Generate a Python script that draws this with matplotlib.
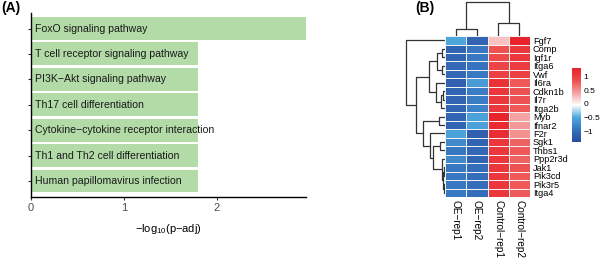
import numpy as np
import matplotlib
matplotlib.use("Agg")
import matplotlib.pyplot as plt
from matplotlib.colors import LinearSegmentedColormap

plt.rcParams['font.family'] = ['Liberation Sans', 'DejaVu Sans']
plt.rcParams['mathtext.default'] = 'regular'

# panel A data
pathways = ["FoxO signaling pathway", "T cell receptor signaling pathway",
            "PI3K\u2212Akt signaling pathway", "Th17 cell differentiation",
            "Cytokine\u2212cytokine receptor interaction",
            "Th1 and Th2 cell differentiation", "Human papillomavirus infection"]
neglog_padj = [2.96, 1.80, 1.80, 1.80, 1.80, 1.80, 1.80]

# panel B data
genes = ["Fgf7", "Comp", "Igf1r", "Itga6", "Vwf", "Il6ra", "Cdkn1b", "Il7r",
         "Itga2b", "Myb", "Ifnar2", "F2r", "Sgk1", "Thbs1", "Ppp2r3d", "Jak1",
         "Pik3cd", "Pik3r5", "Itga4"]
samples = ["OE\u2212rep1", "OE\u2212rep2", "Control\u2212rep1", "Control\u2212rep2"]
zscores = [
    [-0.50, -1.10, 0.25, 1.30],
    [-1.10, -0.90, 0.85, 1.10],
    [-1.10, -0.90, 0.90, 1.10],
    [-1.05, -0.95, 0.95, 1.05],
    [-1.05, -0.90, 1.00, 1.00],
    [-1.15, -0.60, 1.15, 0.80],
    [-1.10, -0.85, 1.10, 0.85],
    [-1.10, -0.85, 1.10, 0.85],
    [-1.10, -0.80, 1.10, 0.80],
    [-1.10, -0.55, 1.30, 0.40],
    [-1.10, -0.55, 1.25, 0.45],
    [-0.55, -1.15, 1.20, 0.50],
    [-0.75, -1.10, 1.10, 0.75],
    [-0.90, -1.05, 1.10, 0.80],
    [-0.75, -1.10, 1.10, 0.75],
    [-0.90, -1.00, 1.10, 0.85],
    [-0.90, -1.00, 1.10, 0.80],
    [-0.90, -1.00, 1.10, 0.80],
    [-0.90, -1.00, 1.10, 0.80],
]
# linkage: (child a, child b, height)
row_merges = [(1, 2, 0.08), (3, 4, 0.08), (19, 20, 0.20), (6, 7, 0.05),
              (22, 8, 0.10), (5, 23, 0.22), (21, 24, 0.42), (9, 10, 0.15),
              (12, 13, 0.12), (15, 16, 0.03), (17, 18, 0.03), (28, 29, 0.05),
              (14, 30, 0.08), (27, 31, 0.31), (11, 32, 0.38), (26, 33, 0.57),
              (25, 34, 0.73), (0, 35, 1.0)]
col_merges = [(0, 1, 0.20), (2, 3, 0.37), (4, 5, 1.0)]

fig = plt.figure(figsize=(6, 2.6), dpi=100)

# ---- panel A
ax = fig.add_axes([0.0517, 0.2423, 0.458, 0.7077])
ypos = np.arange(len(pathways))
ax.barh(ypos, neglog_padj, height=0.9, color="#b3dba8")
for y, name in zip(ypos, pathways):
    ax.text(0.045, y, name, va="center", ha="left", fontsize=7.6, color="#1a1a1a")
ax.set_xlim(0, 2.96)
ax.set_ylim(6.63, -0.61)
ax.set_yticks(ypos)
ax.set_yticklabels([])
ax.set_xticks([0, 1, 2])
ax.tick_params(length=2.5, width=0.8, color="#333333", labelsize=8, labelcolor="#4d4d4d", pad=1.5)
for s in ["top", "right"]:
    ax.spines[s].set_visible(False)
for s in ["left", "bottom"]:
    ax.spines[s].set_linewidth(1.0)
ax.set_xlabel("\u2212log$_{10}$(p\u2212adj)", fontsize=8, labelpad=7)
fig.text(0.002, 0.995, "(A)", fontsize=10, fontweight="bold", va="top", ha="left")
fig.text(0.692, 0.995, "(B)", fontsize=10, fontweight="bold", va="top", ha="left")


# ---- panel B
def dendro_segments(merges, n):
    pos = {i: float(i) for i in range(n)}
    hgt = {i: 0.0 for i in range(n)}
    segs = []
    for k, (a, b, h) in enumerate(merges):
        segs.append([(hgt[a], pos[a]), (h, pos[a]), (h, pos[b]), (hgt[b], pos[b])])
        pos[n + k] = (pos[a] + pos[b]) / 2
        hgt[n + k] = h
    return segs


zs = np.array(zscores)
cmap = LinearSegmentedColormap.from_list(
    "hm", ["#2a4a9c", "#3572bf", "#4ea8de", "#ffffff", "#f4a0a0", "#ee4e4e", "#e8222a"])

axh = fig.add_axes([0.7417, 0.2423, 0.1417, 0.619])
mesh = axh.pcolormesh(np.arange(len(samples) + 1), np.arange(len(genes) + 1), zs,
                      cmap=cmap, vmin=-1.4, vmax=1.32, edgecolors="#f2f2f2", linewidth=0.7)
axh.set_ylim(len(genes), 0)
axh.set_xlim(0, len(samples))
axh.set_xticks(np.arange(len(samples)) + 0.5)
axh.set_xticklabels(samples, rotation=270, fontsize=7.2)
axh.set_yticks(np.arange(len(genes)) + 0.5)
axh.set_yticklabels(genes, fontsize=6.6)
axh.yaxis.tick_right()
axh.tick_params(length=0, pad=2)
for s in axh.spines.values():
    s.set_visible(False)

# row dendrogram
axr = fig.add_axes([0.675, 0.2423, 0.0667, 0.619])
for seg in dendro_segments(row_merges, len(genes)):
    xs, ys = zip(*seg)
    axr.plot(xs, np.array(ys) + 0.5, color="#333333", lw=0.9, solid_capstyle="butt")
axr.set_xlim(1.02, 0)
axr.set_ylim(len(genes), 0)
axr.axis("off")

# column dendrogram
axc = fig.add_axes([0.7417, 0.8615, 0.1417, 0.1346])
for seg in dendro_segments(col_merges, len(samples)):
    hs, xs = zip(*seg)
    axc.plot(np.array(xs) + 0.5, hs, color="#333333", lw=0.9, solid_capstyle="butt")
axc.set_xlim(0, len(samples))
axc.set_ylim(0, 1.03)
axc.axis("off")

# colour bar
axcb = fig.add_axes([0.953, 0.4538, 0.015, 0.2846])
cb = fig.colorbar(mesh, cax=axcb, ticks=[-1, -0.5, 0, 0.5, 1])
cb.ax.set_yticklabels(["\u22121", "\u22120.5", "0", "0.5", "1"])
cb.outline.set_visible(False)
cb.ax.tick_params(length=0, labelsize=6, pad=2)

fig.savefig("out.png", dpi=100)
